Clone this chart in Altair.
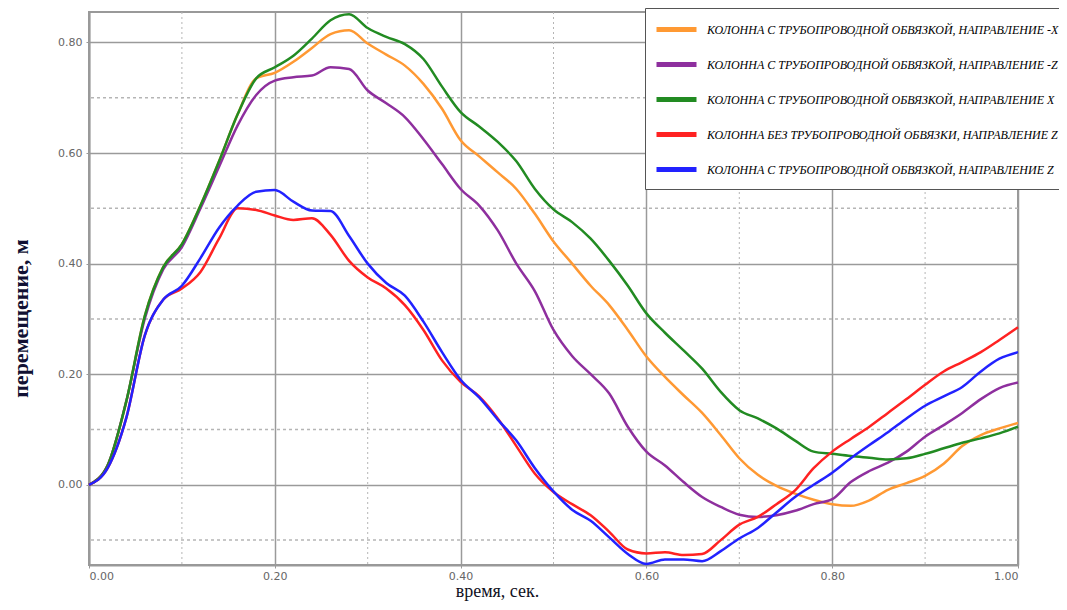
import altair as alt
import pandas as pd

# time axis (s)
t = [0.00, 0.02, 0.04, 0.06, 0.08, 0.10, 0.12, 0.14, 0.16, 0.18,
     0.20, 0.22, 0.24, 0.26, 0.28, 0.30, 0.32, 0.34, 0.36, 0.38,
     0.40, 0.42, 0.44, 0.46, 0.48, 0.50, 0.52, 0.54, 0.56, 0.58,
     0.60, 0.62, 0.64, 0.66, 0.68, 0.70, 0.72, 0.74, 0.76, 0.78,
     0.80, 0.82, 0.84, 0.86, 0.88, 0.90, 0.92, 0.94, 0.96, 0.98, 1.00]

names = [
    "КОЛОННА С ТРУБОПРОВОДНОЙ ОБВЯЗКОЙ, НАПРАВЛЕНИЕ -X",
    "КОЛОННА С ТРУБОПРОВОДНОЙ ОБВЯЗКОЙ, НАПРАВЛЕНИЕ -Z",
    "КОЛОННА С ТРУБОПРОВОДНОЙ ОБВЯЗКОЙ, НАПРАВЛЕНИЕ X",
    "КОЛОННА БЕЗ ТРУБОПРОВОДНОЙ ОБВЯЗКИ, НАПРАВЛЕНИЕ Z",
    "КОЛОННА С ТРУБОПРОВОДНОЙ ОБВЯЗКОЙ, НАПРАВЛЕНИЕ Z",
]
colors = ["#ff9933", "#8e2f9e", "#228b22", "#ff2222", "#2222ff"]

orange_negx = [0, 0.035, 0.15, 0.305, 0.394, 0.435, 0.505, 0.585, 0.67, 0.735,
               0.745, 0.765, 0.79, 0.815, 0.822, 0.798, 0.778, 0.758, 0.725, 0.68,
               0.623, 0.594, 0.565, 0.535, 0.49, 0.44, 0.40, 0.36, 0.325, 0.28,
               0.232, 0.195, 0.162, 0.13, 0.09, 0.048, 0.018, -0.002, -0.016, -0.027,
               -0.035, -0.038, -0.028, -0.009, 0.003, 0.016, 0.038, 0.07, 0.09, 0.102, 0.112]
purple_negz = [0, 0.035, 0.15, 0.30, 0.39, 0.43, 0.50, 0.575, 0.65, 0.705,
               0.731, 0.737, 0.74, 0.755, 0.752, 0.713, 0.69, 0.665, 0.625, 0.58,
               0.535, 0.505, 0.46, 0.40, 0.35, 0.28, 0.233, 0.20, 0.165, 0.105,
               0.06, 0.035, 0.005, -0.022, -0.04, -0.054, -0.058, -0.055, -0.047, -0.035,
               -0.026, 0.005, 0.025, 0.04, 0.06, 0.087, 0.108, 0.13, 0.155, 0.175, 0.185]
green_x = [0, 0.035, 0.15, 0.305, 0.394, 0.435, 0.505, 0.585, 0.67, 0.735,
           0.755, 0.776, 0.807, 0.84, 0.851, 0.826, 0.81, 0.797, 0.77, 0.72,
           0.674, 0.648, 0.62, 0.585, 0.535, 0.498, 0.475, 0.445, 0.405, 0.36,
           0.31, 0.275, 0.243, 0.21, 0.168, 0.135, 0.12, 0.102, 0.08, 0.06,
           0.056, 0.052, 0.049, 0.046, 0.048, 0.056, 0.066, 0.076, 0.084, 0.093, 0.105]
red_z_bare = [0, 0.03, 0.12, 0.27, 0.335, 0.355, 0.385, 0.445, 0.50, 0.497,
              0.487, 0.479, 0.482, 0.452, 0.405, 0.375, 0.355, 0.325, 0.28, 0.225,
              0.186, 0.16, 0.12, 0.07, 0.02, -0.013, -0.035, -0.055, -0.085, -0.117,
              -0.124, -0.122, -0.127, -0.125, -0.100, -0.072, -0.058, -0.035, -0.01, 0.03,
              0.06, 0.083, 0.105, 0.13, 0.155, 0.181, 0.205, 0.222, 0.24, 0.262, 0.285]
blue_z = [0, 0.03, 0.12, 0.27, 0.335, 0.36, 0.41, 0.465, 0.505, 0.53,
          0.533, 0.512, 0.496, 0.495, 0.45, 0.40, 0.365, 0.342, 0.295, 0.24,
          0.19, 0.158, 0.118, 0.08, 0.03, -0.012, -0.045, -0.065, -0.095, -0.125,
          -0.143, -0.135, -0.135, -0.138, -0.12, -0.097, -0.078, -0.05, -0.022, 0.0,
          0.022, 0.048, 0.072, 0.095, 0.12, 0.143, 0.16, 0.177, 0.205, 0.228, 0.24]

major_ticks_x = [0.0, 0.2, 0.4, 0.6, 0.8, 1.0]
major_ticks_y = [0.0, 0.2, 0.4, 0.6, 0.8]
minor_x = [0.1, 0.3, 0.5, 0.7, 0.9]
minor_y = [-0.1, 0.1, 0.3, 0.5, 0.7]

series = [orange_negx, purple_negz, green_x, red_z_bare, blue_z]
rows = []
for k, (nm, vals) in enumerate(zip(names, series)):
    for tt, v in zip(t, vals):
        rows.append({"t": tt, "v": v, "s": nm, "o": k})
df = pd.DataFrame(rows)

xscale = alt.Scale(domain=[0, 1], nice=False, zero=False)
yscale = alt.Scale(domain=[-0.145, 0.855], nice=False, zero=False)

xaxis = alt.Axis(values=major_ticks_x, format=".2f", title="время, сек.",
                 grid=True, gridColor="#9a9a9a", gridWidth=1.5,
                 domainColor="#999999", domainWidth=2,
                 tickColor="#999999", tickSize=3,
                 labelColor="#666666", labelFontSize=11, labelFont="DejaVu Sans",
                 labelPadding=2,
                 titleFont="Liberation Serif", titleFontSize=18,
                 titleFontWeight="normal", titleColor="#111122",
                 titleX=408, titleY=31, titleBaseline="alphabetic")
yaxis = alt.Axis(values=major_ticks_y, format=".2f", title="перемещение, м",
                 grid=True, gridColor="#9a9a9a", gridWidth=1.5,
                 domainColor="#999999", domainWidth=2,
                 tickColor="#999999", tickSize=3,
                 labelColor="#666666", labelFontSize=11, labelFont="DejaVu Sans",
                 labelPadding=4,
                 titleFont="Liberation Serif", titleFontSize=22,
                 titleFontWeight="bold", titleColor="#111133",
                 titleX=-69, titleY=306, titleBaseline="middle")

minor_v = alt.Chart(pd.DataFrame({"mx": minor_x})).mark_rule(
    color="#b5b5b5", strokeDash=[2, 3], strokeWidth=1
).encode(x=alt.X("mx:Q", scale=xscale, axis=xaxis))

minor_h = alt.Chart(pd.DataFrame({"my": minor_y})).mark_rule(
    color="#b5b5b5", strokeDash=[3, 3], strokeWidth=1.5
).encode(y=alt.Y("my:Q", scale=yscale, axis=yaxis))

lines = alt.Chart(df).mark_line(strokeWidth=2.5, interpolate="monotone").encode(
    x=alt.X("t:Q", scale=xscale, axis=xaxis),
    y=alt.Y("v:Q", scale=yscale, axis=yaxis),
    color=alt.Color("s:N", scale=alt.Scale(domain=names, range=colors),
                    legend=alt.Legend(orient="none", legendX=556, legendY=-4, title=None,
                                      symbolType="M-1,0H3", symbolSize=400,
                                      symbolStrokeWidth=5,
                                      labelFont="Liberation Serif", labelFontStyle="italic",
                                      labelFontSize=12, labelColor="#000000",
                                      labelLimit=500, labelOffset=28, rowPadding=12,
                                      padding=9, fillColor="white", strokeColor="#555555")),
    order=alt.Order("o:Q"),
    detail="s:N",
)

chart = alt.layer(minor_v, minor_h, lines).properties(
    width=929, height=553,
    autosize=alt.AutoSizeParams(type="none"),
    padding={"left": 81, "top": 4, "right": 41, "bottom": 37},
).configure_view(stroke="#999999", strokeWidth=2)

chart.save("out.html", embed_options={"renderer": "svg", "actions": False})
